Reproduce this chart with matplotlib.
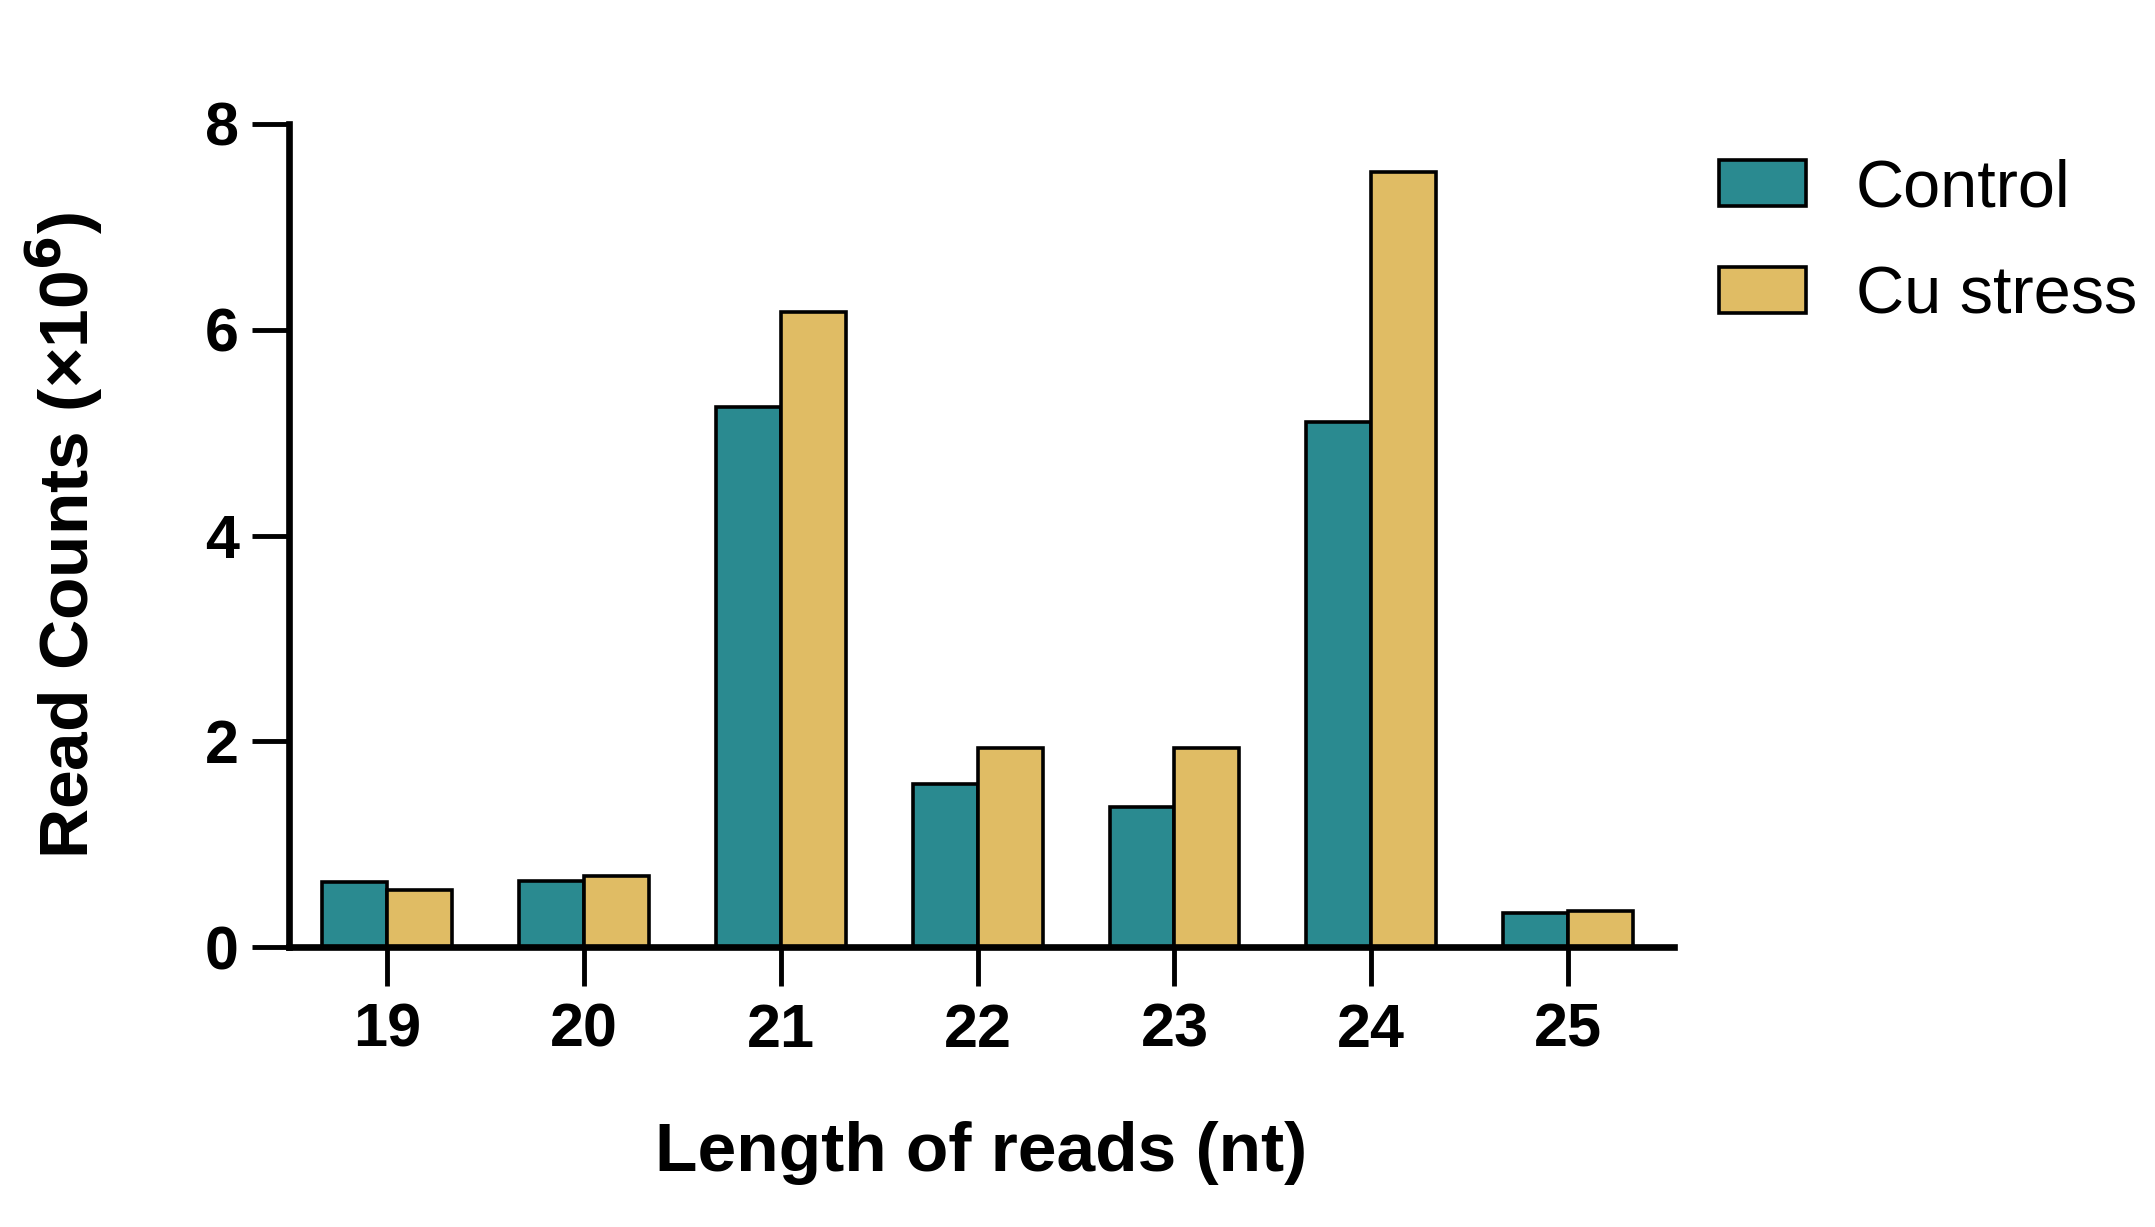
import numpy as np
import matplotlib.pyplot as plt
from matplotlib.patches import Patch

plt.rcParams['font.family'] = ['Liberation Sans', 'DejaVu Sans']

lengths = ['19', '20', '21', '22', '23', '24', '25']
control = [0.63, 0.64, 5.25, 1.59, 1.36, 5.10, 0.33]
cu_stress = [0.56, 0.69, 6.17, 1.94, 1.94, 7.53, 0.35]

TEAL = '#2A8A90'
GOLD = '#E0BC64'

fig = plt.figure(figsize=(21.55, 12.27), dpi=100)
ax = fig.add_axes([0.134, 0.228, 0.643, 0.671])

x = np.arange(len(lengths))
w = 0.33
ax.bar(x - w / 2, control, w, color=TEAL, edgecolor='black', linewidth=2.6, zorder=2)
ax.bar(x + w / 2, cu_stress, w, color=GOLD, edgecolor='black', linewidth=2.6, zorder=2)

ax.set_xlim(-0.5, 6.54)
ax.set_ylim(0, 8)
ax.set_yticks([0, 2, 4, 6, 8])
ax.set_xticks(x)
ax.set_xticklabels(lengths)

for s in ['top', 'right']:
    ax.spines[s].set_visible(False)
for s in ['left', 'bottom']:
    ax.spines[s].set_linewidth(4.8)
ax.spines['bottom'].set_zorder(3)

ax.tick_params(axis='y', length=27, width=3.5, pad=9, labelsize=44)
ax.tick_params(axis='x', length=28, width=3.5, pad=12, labelsize=44)
for lab in ax.get_xticklabels() + ax.get_yticklabels():
    lab.set_fontweight('bold')

ax.set_ylabel('Read Counts (×10$^{\\mathbf{6}}$)', fontsize=50, fontweight='bold', labelpad=72)
ax.set_xlabel('Length of reads (nt)', fontsize=50, fontweight='bold', labelpad=44)

handles = [Patch(facecolor=TEAL, edgecolor='black', linewidth=2.6, label='Control'),
           Patch(facecolor=GOLD, edgecolor='black', linewidth=2.6, label='Cu stress')]
fig.legend(handles=handles, loc='upper left', bbox_to_anchor=(0.77, 0.92),
           frameon=False, fontsize=48, handlelength=1.3, handleheight=0.68,
           handletextpad=0.75, labelspacing=0.68)

fig.savefig('out.png', dpi=100)
